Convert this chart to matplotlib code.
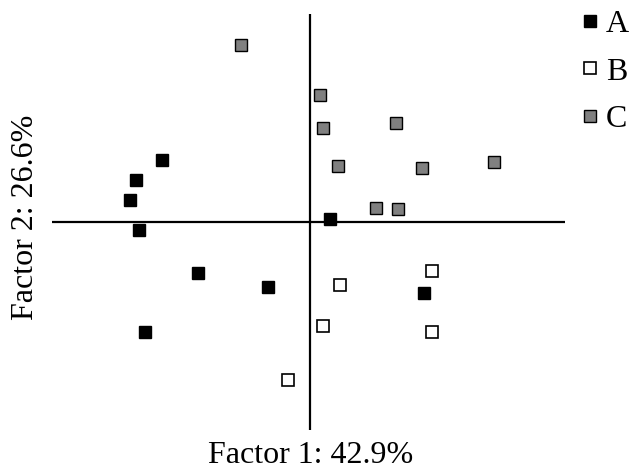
import numpy as np
import matplotlib.pyplot as plt

plt.rcParams['font.family'] = ['Liberation Serif', 'DejaVu Serif']

# factor scores
a_x = [-1.48, -1.74, -1.80, -1.71, -1.12, -0.42, -1.65, 0.20, 1.14]
a_y = [0.62, 0.42, 0.22, -0.08, -0.51, -0.65, -1.10, 0.03, -0.71]
b_x = [1.22, 0.30, 0.13, 1.22, -0.22]
b_y = [-0.49, -0.63, -1.04, -1.10, -1.58]
c_x = [-0.69, 0.10, 0.13, 0.86, 0.28, 1.12, 1.84, 0.66, 0.88]
c_y = [1.77, 1.27, 0.94, 0.99, 0.56, 0.54, 0.60, 0.14, 0.13]

fig = plt.figure(figsize=(6.3, 4.7), dpi=100)
ax = fig.add_axes([52 / 630, 1 - 430 / 470, (565 - 52) / 630, (430 - 14) / 470])
ax.set_xlim(-2.58, 2.55)
ax.set_ylim(-2.08, 2.08)

ax.axhline(0, color='black', lw=1.6, zorder=1)
ax.axvline(0, color='black', lw=1.6, zorder=1)

ms = 8.5
ax.plot(a_x, a_y, 's', ms=ms, mfc='black', mec='black', mew=1.0, label='A', zorder=3)
ax.plot(b_x, b_y, 's', ms=ms, mfc='white', mec='black', mew=1.2, label='B', zorder=3)
ax.plot(c_x, c_y, 's', ms=ms, mfc='#808080', mec='black', mew=1.0, label='C', zorder=3)

for s in ax.spines.values():
    s.set_visible(False)
ax.set_xticks([])
ax.set_yticks([])

ax.legend(loc='upper left', bbox_to_anchor=(582 / 630, 1 - 10 / 470),
          bbox_transform=fig.transFigure, frameon=False, fontsize=23,
          borderpad=0, borderaxespad=0,
          handlelength=0.5, handletextpad=0.25, labelspacing=0.56, markerscale=0.95)

fig.text(311 / 630, 1 - 463 / 470, 'Factor 1: 42.9%', fontsize=23,
         ha='center', va='baseline')
fig.text(26 / 630, 1 - 217 / 470, 'Factor 2: 26.6%', fontsize=23,
         ha='center', va='center', rotation=90)

fig.savefig('out.png', dpi=100)
